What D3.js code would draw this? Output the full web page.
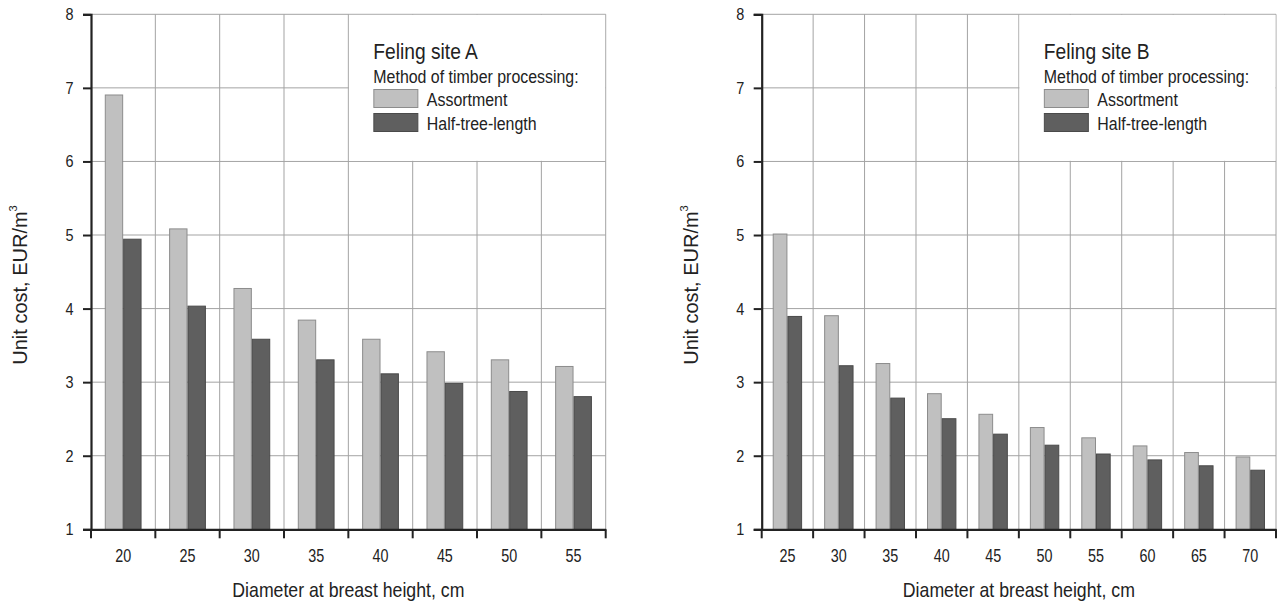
<!DOCTYPE html>
<html>
<head>
<meta charset="utf-8">
<script src="https://cdn.jsdelivr.net/npm/d3@7"></script>
<style>
  html, body { margin: 0; padding: 0; background: #fff; }
  svg text { font-family: "Liberation Sans", Arial, sans-serif; fill: #222; }
</style>
</head>
<body>
<svg id="chart" width="1281" height="603"></svg>
<script>
// ---- data ----
const seriesNames = ["Assortment", "Half-tree-length"];
const yTicks = [1, 2, 3, 4, 5, 6, 7, 8];

const siteA_title = "Feling site A";
const siteA_diameters = ["20", "25", "30", "35", "40", "45", "50", "55"];
const siteA_assortment = [6.91, 5.09, 4.28, 3.85, 3.59, 3.42, 3.31, 3.22];
const siteA_halfTree   = [4.95, 4.04, 3.59, 3.31, 3.12, 2.99, 2.88, 2.81];

const siteB_title = "Feling site B";
const siteB_diameters = ["25", "30", "35", "40", "45", "50", "55", "60", "65", "70"];
const siteB_assortment = [5.02, 3.91, 3.26, 2.85, 2.57, 2.39, 2.25, 2.14, 2.05, 1.99];
const siteB_halfTree   = [3.90, 3.23, 2.79, 2.51, 2.30, 2.15, 2.03, 1.95, 1.87, 1.81];

const legendSubtitle = "Method of timber processing:";
const xTitle = "Diameter at breast height, cm";
const yTitle = "Unit cost, EUR/m";
const yTitleSup = "3";

// ---- drawing ----
const svg = d3.select("#chart");
const fills = ["#c0c0c0", "#5f5f5f"];
const strokes = ["#8c8c8c", "#4a4a4a"];

// condensed text helper (horizontal squeeze to mimic a narrow face)
function txt(parent, x, y, str, size, sx, anchor) {
  return parent.append("text")
    .attr("transform", `translate(${x},${y}) scale(${sx},1)`)
    .attr("text-anchor", anchor || "start")
    .attr("font-size", size)
    .text(str);
}

function drawPanel(cfg) {
  const g = svg.append("g");
  const x0 = d3.scaleBand().domain(cfg.cats).range([cfg.left, cfg.right]).paddingInner(0).paddingOuter(0);
  const x1 = d3.scaleBand().domain(seriesNames).range([0, x0.bandwidth()]).paddingInner(0).paddingOuter(0.75);
  const y = d3.scaleLinear().domain([1, 8]).range([529.3, 14.3]);

  // grid: horizontal
  g.append("g").selectAll("line").data(yTicks.slice(1)).join("line")
    .attr("x1", cfg.left).attr("x2", cfg.right)
    .attr("y1", d => y(d)).attr("y2", d => y(d))
    .attr("stroke", "#a3a3a3").attr("stroke-width", 1);
  // grid: vertical at category boundaries
  const bounds = cfg.cats.map(c => x0(c)).concat([cfg.right]);
  g.append("g").selectAll("line").data(bounds.slice(1)).join("line")
    .attr("x1", d => d).attr("x2", d => d)
    .attr("y1", y(8)).attr("y2", y(1))
    .attr("stroke", "#a3a3a3").attr("stroke-width", 1);

  // legend background (covers grid)
  const lgLeft = x0(cfg.cats[cfg.legendCat]);
  g.append("rect").attr("x", lgLeft + 0.6).attr("y", y(8) + 0.6)
    .attr("width", cfg.right - lgLeft - 1.2).attr("height", y(6) - y(8) - 1.2)
    .attr("fill", "#fff");

  // bars
  const rows = cfg.cats.map((c, i) => ({ cat: c, vals: [cfg.a[i], cfg.h[i]] }));
  const grp = g.append("g").selectAll("g").data(rows).join("g")
    .attr("transform", d => `translate(${x0(d.cat)},0)`);
  grp.selectAll("rect").data(d => d.vals.map((v, k) => ({ v, k }))).join("rect")
    .attr("x", d => x1(seriesNames[d.k]) + 0.5)
    .attr("width", x1.bandwidth() - 1)
    .attr("y", d => y(d.v) + 0.5)
    .attr("height", d => y(1) - y(d.v))
    .attr("fill", d => fills[d.k])
    .attr("stroke", d => strokes[d.k]).attr("stroke-width", 1);

  // y axis
  const yAxis = d3.axisLeft(y).tickValues(yTicks).tickSize(8).tickFormat("");
  const ya = g.append("g").attr("transform", `translate(${cfg.left},0)`).call(yAxis);
  ya.select(".domain").attr("stroke", "#222").attr("stroke-width", 2.2);
  ya.selectAll(".tick line").attr("stroke", "#222").attr("stroke-width", 2);
  yTicks.forEach(t => {
    txt(g, cfg.left - 17.5, y(t) + 6, String(t), 17, 0.85, "end");
  });

  // x axis (ticks at boundaries, labels at centers)
  const xa = g.append("g").attr("transform", `translate(0,${y(1)})`)
    .call(d3.axisBottom(x0).tickSize(0).tickFormat(""));
  xa.select(".domain").attr("stroke", "#222").attr("stroke-width", 2.2);
  xa.append("g").selectAll("line").data(bounds).join("line")
    .attr("x1", d => d).attr("x2", d => d).attr("y1", 0).attr("y2", 9)
    .attr("stroke", "#222").attr("stroke-width", 2);
  cfg.cats.forEach(c => {
    txt(g, x0(c) + x0.bandwidth() / 2, 562, c, 17.5, 0.82, "middle");
  });

  // axis titles
  txt(g, (cfg.left + cfg.right) / 2, 596.5, xTitle, 20, 0.885, "middle");
  const yt = g.append("text").attr("transform", `translate(${cfg.yTitleX},285) rotate(-90)`)
    .attr("text-anchor", "middle").attr("font-size", 20);
  yt.append("tspan").text(yTitle);
  yt.append("tspan").attr("dy", -10).attr("font-size", 11).text(yTitleSup);

  // legend
  const lx = lgLeft + 25;
  txt(g, lx, 59.3, cfg.title, 22, 0.873);
  txt(g, lx, 83.3, legendSubtitle, 17.7, 0.9);
  seriesNames.forEach((s, k) => {
    g.append("rect").attr("x", lx + 0.5).attr("y", 89.5 + k * 24).attr("width", 44).attr("height", 18)
      .attr("fill", fills[k]).attr("stroke", strokes[k]).attr("stroke-width", 1);
    txt(g, lx + 53.5, 106 + k * 23.5, s, 17.7, 0.9);
  });
}

drawPanel({ cats: siteA_diameters, a: siteA_assortment, h: siteA_halfTree, title: siteA_title,
            left: 91, right: 605.7, legendCat: 4, yTitleX: 27.3 });
drawPanel({ cats: siteB_diameters, a: siteB_assortment, h: siteB_halfTree, title: siteB_title,
            left: 761.7, right: 1276, legendCat: 5, yTitleX: 698 });
</script>
</body>
</html>
